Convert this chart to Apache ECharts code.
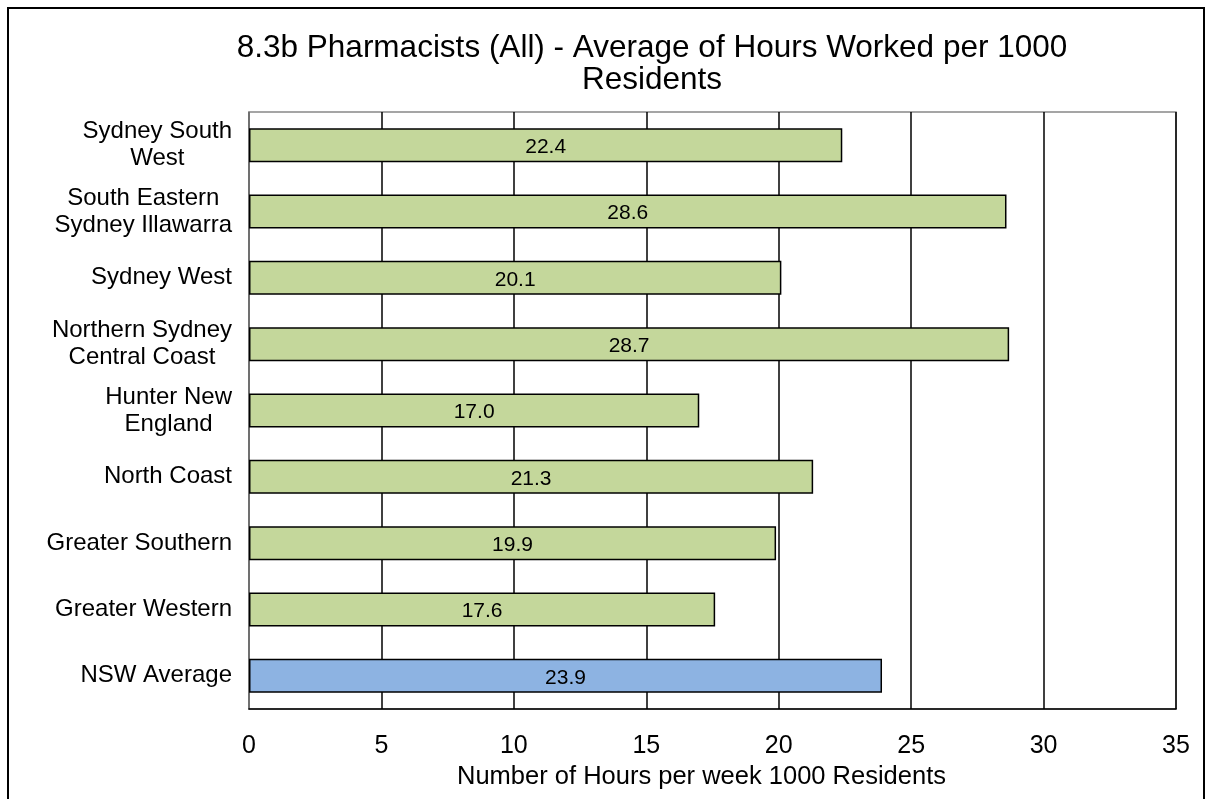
<!DOCTYPE html>
<html>
<head>
<meta charset="utf-8">
<script src="https://cdn.jsdelivr.net/npm/echarts@6/dist/echarts.min.js"></script>
<style>
  html, body { margin: 0; padding: 0; background: #fff; }
  #chart { width: 1208px; height: 799px; }
</style>
</head>
<body>
<div id="chart"></div>
<script>
// 地区（从上到下）
const regions = [
  'Sydney South\nWest',
  'South Eastern\nSydney Illawarra',
  'Sydney West',
  'Northern Sydney\nCentral Coast',
  'Hunter New\nEngland',
  'North Coast',
  'Greater Southern',
  'Greater Western',
  'NSW Average'
];
// 每千人每周工作小时数
const hours = [22.4, 28.6, 20.1, 28.7, 17.0, 21.3, 19.9, 17.6, 23.9];
const xTicks = [0, 5, 10, 15, 20, 25, 30, 35];

const font = 'Liberation Sans, Arial, sans-serif';
const chart = echarts.init(document.getElementById('chart'));

const option = {
  backgroundColor: '#fff',
  animation: false,
  title: {
    text: '8.3b Pharmacists (All) - Average of Hours Worked per 1000\nResidents',
    left: 647,
    top: 27,
    textAlign: 'center',
    textStyle: {
      fontFamily: font,
      fontSize: 31.5,
      fontWeight: 'normal',
      color: '#000',
      lineHeight: 32
    }
  },
  // 外框
  graphic: [{
    type: 'rect',
    shape: { x: 8, y: 8, width: 1196, height: 820 },
    style: { fill: null, stroke: '#000', lineWidth: 2 },
    silent: true
  }],
  grid: {
    left: 249,
    right: 32,
    top: 112,
    bottom: 90,
    show: true,
    borderColor: '#888',
    borderWidth: 1.5
  },
  xAxis: {
    type: 'value',
    min: xTicks[0],
    max: xTicks[xTicks.length - 1],
    interval: 5,
    axisLine: { show: true, lineStyle: { color: '#000', width: 1.5 } },
    axisTick: { show: false },
    splitLine: { show: true, lineStyle: { color: '#000', width: 1.5 } },
    axisLabel: {
      margin: 25,
      fontFamily: font,
      fontSize: 25,
      color: '#000'
    },
    name: 'Number of Hours per week 1000 Residents',
    nameLocation: 'middle',
    nameGap: 53,
    nameTextStyle: {
      fontFamily: font,
      fontSize: 25.5,
      color: '#000',
      padding: [0, 22, 0, 0]
    }
  },
  yAxis: {
    type: 'category',
    inverse: true,
    data: regions,
    axisLine: { show: true, lineStyle: { color: '#888', width: 1.5 } },
    axisTick: { show: false },
    axisLabel: {
      margin: 17,
      color: '#000',
      formatter: v => v.split('\n').map(l => '{c|' + l + '}').join('\n'),
      rich: {
        c: {
          align: 'center',
          fontFamily: font,
          fontSize: 24,
          lineHeight: 27,
          color: '#000'
        }
      }
    }
  },
  series: [{
    type: 'bar',
    data: hours,
    barWidth: 34,
    itemStyle: {
      color: p => regions[p.dataIndex] === 'NSW Average' ? '#8DB3E2' : '#C4D79B',
      borderColor: '#000',
      borderWidth: 1.5
    },
    label: {
      show: true,
      position: 'inside',
      offset: [0, 2],
      formatter: p => p.value.toFixed(1),
      fontFamily: font,
      fontSize: 21,
      color: '#000'
    }
  }]
};

chart.setOption(option);
</script>
</body>
</html>
